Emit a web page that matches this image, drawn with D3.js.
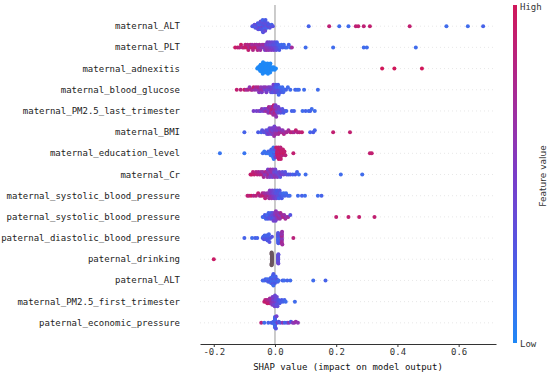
<!DOCTYPE html>
<html>
<head>
<meta charset="utf-8">
<script src="https://cdn.jsdelivr.net/npm/d3@7"></script>
<style>
  body { margin: 0; background: #fff; }
  svg { display: block; }
</style>
</head>
<body>
<svg id="chart" width="550" height="374"></svg>
<script>
// feature names, top (most important) to bottom
const features = [
    'maternal_ALT', 'maternal_PLT', 'maternal_adnexitis', 'maternal_blood_glucose',
    'maternal_PM2.5_last_trimester', 'maternal_BMI', 'maternal_education_level', 'maternal_Cr',
    'maternal_systolic_blood_pressure', 'paternal_systolic_blood_pressure',
    'paternal_diastolic_blood_pressure', 'paternal_drinking', 'paternal_ALT',
    'maternal_PM2.5_first_trimester', 'paternal_economic_pressure'
];

const xTicks = [-0.2, 0.0, 0.2, 0.4, 0.6];

// [shap value, feature value 0..1 (null = missing)]
const maternalALT = [
    [-0.074,0.3],[-0.07,0.25],[-0.067,0.35],[-0.064,0.3],[-0.062,0.2],[-0.06,0.4],[-0.058,0.3],[-0.056,0.25],
    [-0.055,0.35],[-0.053,0.3],[-0.052,0.2],[-0.05,0.45],[-0.049,0.3],[-0.048,0.25],[-0.047,0.35],[-0.046,0.3],
    [-0.045,0.2],[-0.044,0.4],[-0.043,0.3],[-0.042,0.25],[-0.041,0.35],[-0.04,0.3],[-0.04,0.2],[-0.039,0.3],
    [-0.038,0.45],[-0.037,0.25],[-0.036,0.3],[-0.035,0.35],[-0.034,0.2],[-0.033,0.3],[-0.032,0.4],[-0.031,0.25],
    [-0.03,0.3],[-0.028,0.35],[-0.026,0.2],[-0.024,0.3],[-0.022,0.4],[-0.02,0.25],[-0.017,0.3],[-0.014,0.35],
    [-0.011,0.2],[-0.007,0.3],
    [0.11,0.2],[0.177,0.88],[0.21,0.15],[0.24,0.15],[0.264,0.88],[0.272,0.9],[0.29,0.88],[0.31,0.9],
    [0.44,0.9],[0.56,0.15],[0.63,0.15],[0.68,0.2]
];
const maternalPLT = [
    [-0.13,0.95],[-0.122,0.9],[-0.116,0.85],[-0.111,0.95],[-0.106,0.8],[-0.101,0.9],[-0.097,0.85],[-0.094,0.95],
    [-0.09,0.8],[-0.087,0.9],[-0.084,0.75],[-0.081,0.85],[-0.078,0.9],[-0.075,0.7],[-0.072,0.8],[-0.069,0.85],
    [-0.066,0.75],[-0.063,0.9],[-0.06,0.7],[-0.057,0.8],[-0.054,0.65],[-0.051,0.75],[-0.048,0.7],[-0.045,0.6],
    [-0.042,0.65],[-0.039,0.55],[-0.036,0.7],[-0.033,0.5],[-0.031,0.6],[-0.029,0.45],[-0.027,0.65],[-0.025,0.5],
    [-0.023,0.55],[-0.021,0.4],[-0.02,0.6],[-0.018,0.45],[-0.016,0.5],[-0.014,0.35],[-0.012,0.55],[-0.01,0.4],
    [-0.008,0.45],[-0.006,0.3],[-0.004,0.5],[-0.002,0.35],[0.0,0.4],[0.002,0.3],[0.004,0.35],[0.006,0.25],
    [0.008,0.3],[0.011,0.2],[0.014,0.25],[0.017,0.2],[0.021,0.15],[0.025,0.2],[0.029,0.15],[0.034,0.2],
    [0.039,0.15],[0.045,0.2],[0.05,0.15],[0.055,0.7],[0.1,0.15],[0.19,0.15],[0.29,0.15],[0.3,0.15],[0.46,0.15]
];
const maternalAdnexitis = [
    [-0.058,0],[-0.055,0],[-0.053,0],[-0.051,0],[-0.05,0],[-0.049,0],[-0.048,0],[-0.047,0],[-0.046,0],[-0.045,0],
    [-0.045,0],[-0.044,0],[-0.043,0],[-0.042,0],[-0.041,0],[-0.04,0],[-0.04,0],[-0.039,0],[-0.038,0],[-0.037,0],
    [-0.036,0],[-0.035,0],[-0.034,0],[-0.033,0],[-0.032,0],[-0.031,0],[-0.03,0],[-0.03,0],[-0.029,0],[-0.028,0],
    [-0.027,0],[-0.026,0],[-0.025,0],[-0.024,0],[-0.023,0],[-0.022,0],[-0.021,0],[-0.02,0],[-0.019,0],[-0.018,0],
    [-0.017,0],[-0.016,0],[-0.015,0],[-0.013,0],[-0.011,0],[-0.009,0],[-0.007,0],[-0.004,0],[-0.001,0],[0.003,0],
    [0.35,1],[0.39,1],[0.48,1]
];
const maternalBloodGlucose = [
    [-0.125,0.9],[-0.112,0.85],[-0.1,0.95],[-0.094,0.7],[-0.088,0.8],[-0.083,0.6],[-0.078,0.85],[-0.074,0.7],
    [-0.07,0.9],[-0.066,0.65],[-0.062,0.75],[-0.058,0.6],[-0.055,0.8],[-0.052,0.55],[-0.049,0.7],[-0.046,0.6],
    [-0.043,0.5],[-0.04,0.65],[-0.037,0.55],[-0.034,0.45],[-0.031,0.6],[-0.028,0.5],[-0.025,0.4],[-0.022,0.55],
    [-0.019,0.45],[-0.016,0.5],[-0.013,0.35],[-0.011,0.45],[-0.009,0.4],[-0.007,0.3],[-0.005,0.5],[-0.003,0.35],
    [-0.001,0.3],[0.001,0.4],[0.003,0.25],[0.005,0.35],[0.006,0.2],[0.008,0.3],[0.01,0.25],[0.012,0.2],
    [0.014,0.3],[0.016,0.15],[0.018,0.25],[0.021,0.2],[0.024,0.15],[0.027,0.2],[0.031,0.15],[0.036,0.2],
    [0.042,0.15],[0.05,0.15],[0.066,0.2],[0.072,0.15],[0.078,0.15],[0.095,0.15],[0.14,0.15]
];
const maternalPM25Last = [
    [-0.07,0.5],[-0.06,0.45],[-0.052,0.55],[-0.047,0.4],[-0.043,0.6],[-0.039,0.5],[-0.035,0.45],[-0.032,0.65],
    [-0.029,0.5],[-0.026,0.7],[-0.024,0.55],[-0.022,0.6],[-0.02,0.75],[-0.018,0.5],[-0.016,0.7],[-0.014,0.8],
    [-0.012,0.6],[-0.011,0.75],[-0.01,0.85],[-0.008,0.65],[-0.007,0.8],[-0.006,0.7],[-0.004,0.9],[-0.003,0.6],
    [-0.002,0.75],[-0.001,0.8],[0.0,0.55],[0.001,0.7],[0.002,0.5],[0.004,0.6],[0.005,0.45],[0.007,0.55],
    [0.009,0.4],[0.011,0.5],[0.013,0.35],[0.015,0.45],[0.018,0.3],[0.021,0.4],[0.024,0.3],[0.028,0.25],
    [0.032,0.3],[0.037,0.2],[0.055,0.2],[0.062,0.2],[0.09,0.15],[0.1,0.2],[0.11,0.15],[0.115,0.2],
    [0.12,0.15],[0.13,0.15]
];
const maternalBMI = [
    [-0.1,0.2],[-0.055,0.25],[-0.045,0.2],[-0.042,0.3],[-0.036,0.35],[-0.032,0.3],[-0.029,0.4],[-0.026,0.35],
    [-0.024,0.45],[-0.022,0.3],[-0.02,0.5],[-0.018,0.4],[-0.016,0.45],[-0.014,0.55],[-0.012,0.4],[-0.011,0.5],
    [-0.009,0.6],[-0.008,0.45],[-0.006,0.55],[-0.005,0.5],[-0.003,0.65],[-0.002,0.45],[0.0,0.6],[0.002,0.5],
    [0.003,0.7],[0.005,0.55],[0.007,0.65],[0.009,0.5],[0.011,0.7],[0.013,0.6],[0.016,0.75],[0.019,0.55],
    [0.022,0.7],[0.025,0.6],[0.029,0.8],[0.033,0.65],[0.038,0.75],[0.044,0.7],[0.05,0.8],[0.056,0.85],
    [0.062,0.75],[0.068,0.9],[0.074,0.8],[0.08,0.85],[0.088,0.9],[0.115,0.2],[0.125,0.25],[0.13,0.2],
    [0.19,0.9],[0.245,0.9]
];
const maternalEducation = [
    [-0.18,0.1],[-0.1,0.1],[-0.04,0.15],[-0.035,0.1],[-0.03,0.15],[-0.026,0.1],[-0.022,0.2],[-0.019,0.1],
    [-0.016,0.15],[-0.014,0.1],[-0.012,0.2],[-0.01,0.1],[-0.009,0.15],[-0.008,0.1],[-0.007,0.2],[-0.006,0.1],
    [-0.005,0.15],[-0.004,0.1],[-0.003,0.25],[-0.002,0.1],[-0.001,0.2],[0.0,0.3],
    [0.002,0.5],[0.004,0.9],[0.006,0.85],[0.007,0.9],[0.008,0.95],[0.009,0.9],[0.01,0.85],[0.011,0.9],
    [0.012,0.95],[0.013,0.9],[0.014,0.85],[0.015,0.9],[0.016,0.95],[0.017,0.9],[0.018,0.85],[0.019,0.9],
    [0.02,0.95],[0.022,0.9],[0.024,0.85],[0.026,0.9],[0.028,0.95],[0.031,0.9],[0.034,0.85],[0.06,0.9],
    [0.31,0.9],[0.316,0.9]
];
const maternalCr = [
    [-0.08,0.9],[-0.076,0.95],[-0.072,0.85],[-0.068,0.9],[-0.062,0.8],[-0.058,0.85],[-0.054,0.75],[-0.05,0.8],
    [-0.046,0.7],[-0.043,0.85],[-0.04,0.65],[-0.037,0.75],[-0.034,0.6],[-0.031,0.8],[-0.029,0.55],[-0.027,0.7],
    [-0.025,0.65],[-0.023,0.5],[-0.021,0.75],[-0.019,0.6],[-0.017,0.55],[-0.015,0.7],[-0.013,0.5],[-0.011,0.65],
    [-0.009,0.45],[-0.007,0.6],[-0.005,0.55],[-0.003,0.4],[-0.001,0.6],[0.001,0.45],[0.003,0.5],[0.005,0.35],
    [0.008,0.55],[0.011,0.4],[0.014,0.45],[0.017,0.3],[0.02,0.5],[0.024,0.35],[0.028,0.4],[0.033,0.3],
    [0.038,0.35],[0.044,0.25],[0.05,0.3],[0.058,0.2],[0.066,0.25],[0.072,0.2],[0.078,0.15],[0.1,0.15],
    [0.215,0.15],[0.285,0.15]
];
const maternalSystolic = [
    [-0.09,0.9],[-0.085,0.85],[-0.078,0.95],[-0.07,0.8],[-0.062,0.85],[-0.055,0.9],[-0.05,0.75],[-0.045,0.85],
    [-0.041,0.8],[-0.038,0.9],[-0.035,0.7],[-0.032,0.85],[-0.029,0.75],[-0.026,0.65],[-0.023,0.8],[-0.021,0.6],
    [-0.019,0.7],[-0.017,0.55],[-0.015,0.65],[-0.013,0.5],[-0.011,0.6],[-0.009,0.45],[-0.007,0.55],[-0.005,0.4],
    [-0.003,0.5],[-0.001,0.35],[0.001,0.45],[0.003,0.3],[0.005,0.4],[0.007,0.25],[0.009,0.35],[0.011,0.3],
    [0.013,0.2],[0.015,0.3],[0.017,0.25],[0.019,0.2],[0.022,0.25],[0.025,0.2],[0.028,0.15],[0.032,0.2],
    [0.036,0.15],[0.042,0.2],[0.048,0.15],[0.075,0.15],[0.088,0.2],[0.098,0.15],[0.14,0.15],[0.152,0.2]
];
const paternalSystolic = [
    [-0.04,0.2],[-0.036,0.15],[-0.033,0.25],[-0.03,0.2],[-0.027,0.3],[-0.025,0.15],[-0.023,0.25],[-0.021,0.2],
    [-0.019,0.3],[-0.017,0.25],[-0.015,0.35],[-0.013,0.2],[-0.011,0.3],[-0.01,0.4],[-0.008,0.25],[-0.007,0.35],
    [-0.005,0.45],[-0.004,0.3],[-0.002,0.5],[-0.001,0.4],[0.0,0.55],[0.002,0.45],[0.003,0.6],[0.005,0.5],
    [0.006,0.65],[0.008,0.55],[0.01,0.6],[0.012,0.7],[0.014,0.55],[0.016,0.65],[0.018,0.75],[0.021,0.6],
    [0.024,0.7],[0.027,0.8],[0.03,0.65],[0.034,0.75],[0.038,0.6],[0.043,0.7],[0.05,0.3],
    [0.2,0.9],[0.24,0.9],[0.275,0.9],[0.325,0.9]
];
const paternalDiastolic = [
    [-0.1,0.2],[-0.075,0.15],[-0.065,0.2],[-0.058,0.2],[-0.04,0.25],[-0.038,0.2],[-0.036,0.3],[-0.034,0.2],
    [-0.03,0.25],[-0.03,0.2],[-0.03,0.3],[-0.028,0.2],[-0.024,0.25],[-0.024,0.2],[-0.024,0.3],[-0.024,0.2],
    [-0.024,0.25],[-0.02,0.2],[-0.018,0.3],[-0.016,0.25],[-0.01,0.3],
    [0.01,0.2],[0.01,0.25],[0.01,0.2],[0.01,0.3],[0.01,0.2],[0.01,0.25],[0.01,0.2],[0.01,0.3],[0.011,0.25],
    [0.022,0.6],[0.022,0.7],[0.022,0.55],[0.022,0.75],[0.022,0.6],[0.022,0.65],[0.022,0.7],[0.022,0.6],
    [0.022,0.75],[0.023,0.65],[0.024,0.7],[0.06,0.85]
];
const paternalDrinking = [
    [-0.2,0.95],
    [-0.01,null],[-0.01,null],[-0.01,null],[-0.01,null],[-0.01,null],[-0.01,null],[-0.01,null],[-0.01,null],
    [-0.01,null],[-0.01,null],[-0.011,null],[-0.011,null],[-0.011,null],[-0.011,null],[-0.011,null],[-0.011,null],
    [0.01,0.35],[0.01,0.4],[0.01,0.35],[0.01,0.3],[0.01,0.4],[0.01,0.35],[0.01,0.3],[0.01,0.4],
    [0.01,0.35],[0.011,0.3],[0.011,0.4],[0.011,0.35]
];
const paternalALT = [
    [-0.04,0.2],[-0.035,0.15],[-0.031,0.2],[-0.028,0.25],[-0.025,0.15],[-0.022,0.2],[-0.02,0.3],[-0.018,0.15],
    [-0.016,0.25],[-0.014,0.2],[-0.013,0.15],[-0.012,0.3],[-0.011,0.2],[-0.01,0.15],[-0.009,0.25],[-0.008,0.2],
    [-0.008,0.15],[-0.007,0.3],[-0.006,0.2],[-0.005,0.15],[-0.005,0.25],[-0.004,0.2],[-0.003,0.3],[-0.002,0.15],
    [-0.001,0.2],[0.0,0.25],[0.002,0.2],[0.004,0.15],[0.006,0.3],[0.009,0.2],[0.012,0.15],[0.025,0.2],
    [0.03,0.15],[0.04,0.2],[0.05,0.15],[0.125,0.15],[0.165,0.2]
];
const maternalPM25First = [
    [-0.035,0.9],[-0.032,0.85],[-0.029,0.95],[-0.027,0.8],[-0.025,0.9],[-0.023,0.85],[-0.021,0.75],[-0.019,0.9],
    [-0.017,0.7],[-0.015,0.8],[-0.013,0.65],[-0.011,0.6],[-0.01,0.7],[-0.009,0.55],[-0.008,0.5],[-0.007,0.6],
    [-0.006,0.45],[-0.005,0.55],[-0.004,0.5],[-0.003,0.4],[-0.002,0.5],[-0.001,0.45],[0.0,0.4],[0.001,0.5],
    [0.002,0.35],[0.003,0.45],[0.004,0.4],[0.005,0.3],[0.006,0.4],[0.008,0.35],[0.01,0.3],[0.012,0.25],
    [0.015,0.3],[0.018,0.2],[0.022,0.25],[0.026,0.2],[0.031,0.2],[0.035,0.15],[0.065,0.15]
];
const paternalEconomic = [
    [-0.045,0.85],[-0.035,0.15],[-0.022,0.2],[-0.012,0.2],[-0.008,0.25],[-0.005,0.2],[-0.003,0.15],
    [0.0,0.2],[0.0,0.15],[0.0,0.2],[0.0,0.25],[0.0,0.15],[0.0,0.2],[0.0,0.15],[0.0,0.2],[0.0,0.25],[0.0,0.2],
    [0.0,0.15],[0.0,0.2],[0.003,0.3],[0.005,0.45],[0.008,0.5],[0.012,0.3],[0.017,0.25],[0.025,0.6],
    [0.032,0.2],[0.04,0.3],[0.046,0.6],[0.052,0.25],[0.058,0.55],[0.063,0.6],[0.068,0.65],[0.075,0.6]
];

const rows = [
    maternalALT, maternalPLT, maternalAdnexitis, maternalBloodGlucose, maternalPM25Last, maternalBMI,
    maternalEducation, maternalCr, maternalSystolic, paternalSystolic, paternalDiastolic, paternalDrinking,
    paternalALT, maternalPM25First, paternalEconomic
];

const svg = d3.select('#chart');
const monoFont = '"DejaVu Sans Mono", "Liberation Mono", monospace';

const plotTop = 5, axisY = 344;
const rowStep = (axisY - plotTop) / (features.length + 1);
const rowY = (i) => plotTop + (i + 1) * rowStep;

let x = d3.scaleLinear().domain([-0.245, 0.722]).range([200, 496]);

// blue -> purple -> red, close to how the picture renders shap's map
let color = d3.scaleLinear()
    .domain([0, 0.25, 0.5, 0.75, 1])
    .range(['#1e88f6', '#4a58e6', '#7a3cc8', '#a82892', '#d0175a'])
    .interpolate(d3.interpolateLab);
const nanColor = '#6b5560';

// grid lines
svg.append('g')
    .selectAll('line')
    .data(features)
    .enter()
    .append('line')
    .attr('x1', x.range()[0])
    .attr('x2', x.range()[1])
    .attr('y1', (d, i) => rowY(i))
    .attr('y2', (d, i) => rowY(i))
    .style('stroke', '#d8d8d8')
    .style('stroke-width', 0.6)
    .style('stroke-dasharray', '1,3');

// zero line
svg.append('line')
    .attr('x1', x(0))
    .attr('x2', x(0))
    .attr('y1', plotTop)
    .attr('y2', axisY)
    .style('stroke', '#999')
    .style('stroke-width', 1);

// beeswarm offsets, after shap's summary plot: bin by x, stack alternating up/down
function swarm(points) {
    let binW = 2.4;
    let x0 = x(d3.min(points, (p) => p[0]));
    let quant = points.map((p) => Math.round((x(p[0]) - x0) / binW));
    let order = d3.range(points.length).sort((a, b) => quant[a] - quant[b] || a - b);
    let ys = new Array(points.length).fill(0);
    let layer = 0, last = null;
    order.forEach((i) => {
        if (quant[i] !== last) layer = 0;
        ys[i] = Math.ceil(layer / 2) * ((layer % 2) * 2 - 1);
        layer++;
        last = quant[i];
    });
    let m = d3.max(ys) + 1;
    return ys.map((y) => y * 0.9 * 0.4 / m);
}

rows.forEach((pts, i) => {
    let offs = swarm(pts);
    let g = svg.append('g').attr('class', 'row');
    g.selectAll('circle')
        .data(pts)
        .enter()
        .append('circle')
        .attr('cx', (d) => x(d[0]))
        .attr('cy', (d, j) => rowY(i) - offs[j] * rowStep)
        .attr('r', 2)
        .style('fill', (d) => d[1] === null ? nanColor : color(d[1]));
});

// feature labels
svg.append('g')
    .selectAll('text')
    .data(features)
    .enter()
    .append('text')
    .attr('x', 180)
    .attr('y', (d, i) => rowY(i) + 3)
    .attr('text-anchor', 'end')
    .style('font-family', monoFont)
    .style('font-size', '9px')
    .style('fill', '#222')
    .text((d) => d);

// x axis
let axis = svg.append('g')
    .attr('transform', `translate(0, ${axisY})`)
    .call(d3.axisBottom(x).tickValues(xTicks).tickSize(3).tickSizeOuter(0).tickFormat((d) => d.toFixed(1)));
axis.select('.domain').style('stroke', '#333');
axis.selectAll('.tick line').style('stroke', '#333');
axis.selectAll('.tick text')
    .attr('dy', '0.71em')
    .attr('y', 5)
    .style('font-family', monoFont)
    .style('font-size', '9px')
    .style('fill', '#333');

svg.append('text')
    .attr('x', 348)
    .attr('y', 370)
    .attr('text-anchor', 'middle')
    .style('font-family', monoFont)
    .style('font-size', '9px')
    .style('fill', '#111')
    .text('SHAP value (impact on model output)');

// color bar
let grad = svg.append('defs').append('linearGradient')
    .attr('id', 'cbar')
    .attr('x1', 0).attr('y1', 1).attr('x2', 0).attr('y2', 0);
d3.range(0, 1.01, 0.1).forEach((t) => {
    grad.append('stop').attr('offset', t).attr('stop-color', color(t));
});
svg.append('rect')
    .attr('x', 513)
    .attr('y', plotTop)
    .attr('width', 4)
    .attr('height', 338)
    .style('fill', 'url(#cbar)');

svg.append('text').attr('x', 520).attr('y', 10)
    .style('font-family', monoFont).style('font-size', '9px').style('fill', '#333').text('High');
svg.append('text').attr('x', 520).attr('y', 347)
    .style('font-family', monoFont).style('font-size', '9px').style('fill', '#333').text('Low');
svg.append('text')
    .attr('transform', 'translate(546, 176) rotate(-90)')
    .attr('text-anchor', 'middle')
    .style('font-family', '"DejaVu Sans", sans-serif')
    .style('font-size', '9px')
    .style('fill', '#333')
    .text('Feature value');
</script>
</body>
</html>
